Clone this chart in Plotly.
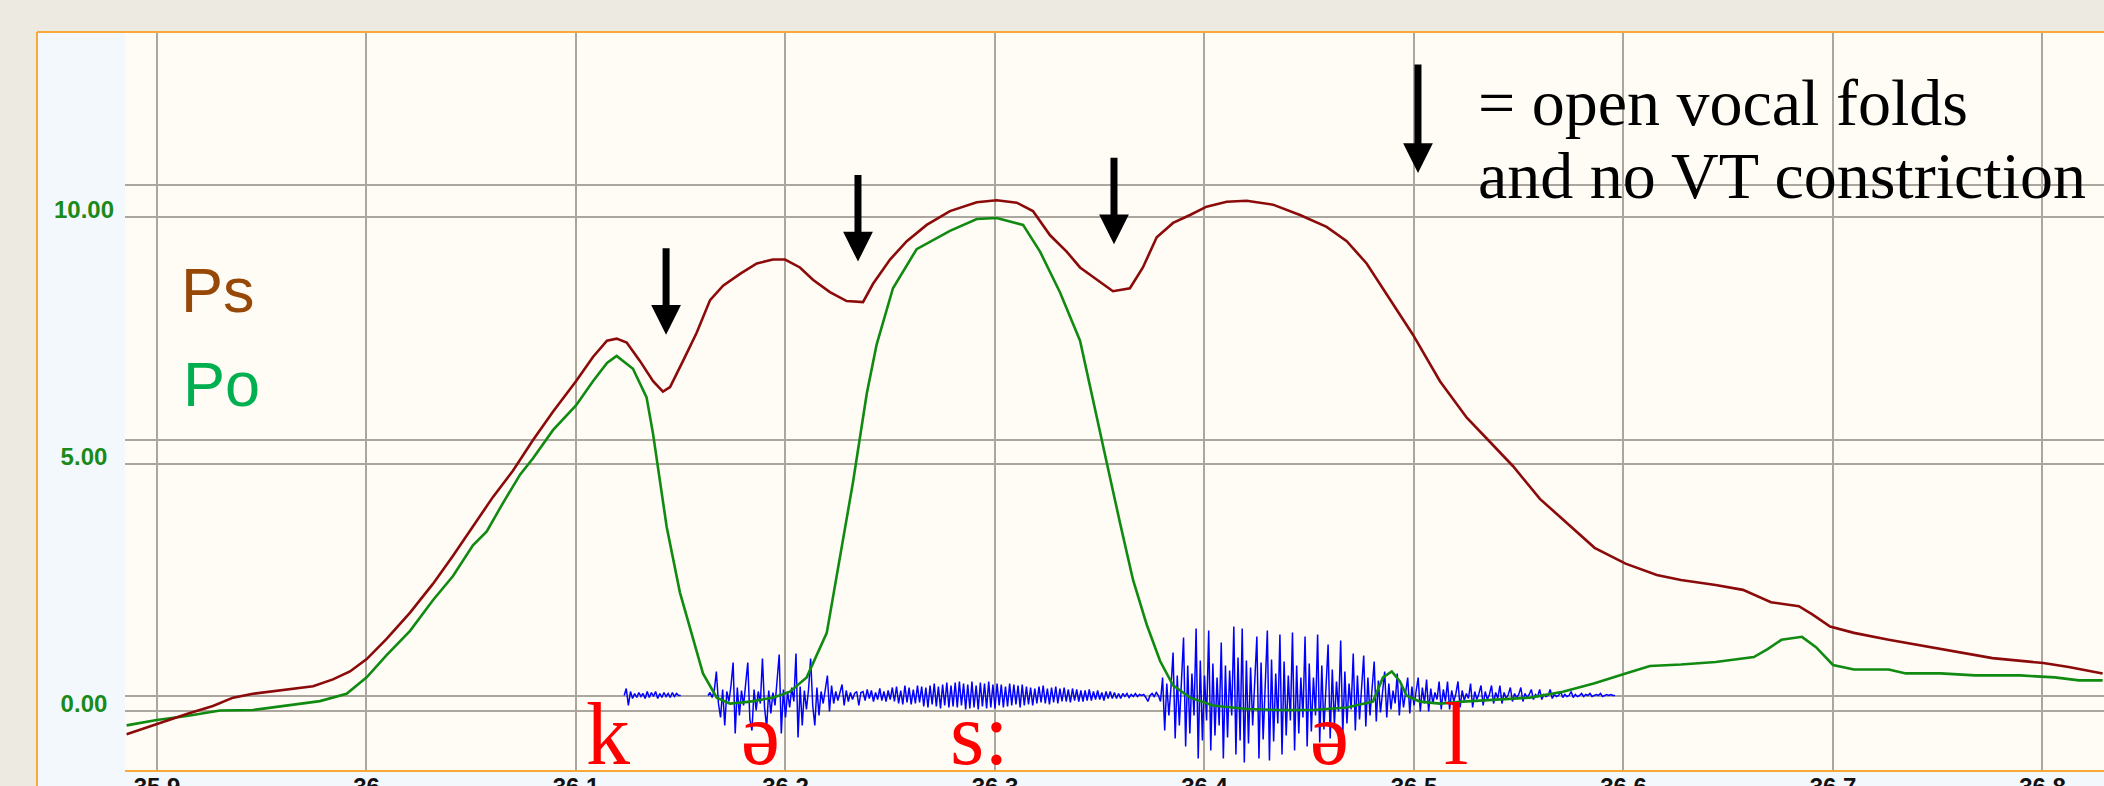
import plotly.graph_objects as go

# ---------------- data ----------------
# subglottal pressure (Ps) and oral pressure (Po), time in s
ps_t = [35.8855, 35.8999, 35.9142, 35.9267, 35.9363, 35.9458, 35.9619, 35.9745, 35.9840, 35.9921,
        36.0001, 36.0096, 36.0208, 36.0317, 36.0413, 36.0508, 36.0604, 36.0699, 36.0795, 36.0890,
        36.1000, 36.1081, 36.1148, 36.1194, 36.1242, 36.1305, 36.1368, 36.1415, 36.1449, 36.1511,
        36.1576, 36.1640, 36.1702, 36.1783, 36.1863, 36.1940, 36.1998, 36.2069, 36.2131, 36.2212,
        36.2292, 36.2370, 36.2418, 36.2499, 36.2579, 36.2674, 36.2785, 36.2913, 36.3008, 36.3104,
        36.3181, 36.3263, 36.3342, 36.3406, 36.3485, 36.3563, 36.3644, 36.3706, 36.3772, 36.3850,
        36.3931, 36.4010, 36.4106, 36.4201, 36.4327, 36.4456, 36.4583, 36.4679, 36.4774, 36.4870,
        36.4995, 36.5124, 36.5252, 36.5363, 36.5473, 36.5601, 36.5697, 36.5862, 36.6010, 36.6159,
        36.6274, 36.6440, 36.6570, 36.6704, 36.6837, 36.6903, 36.6986, 36.7100, 36.7266, 36.7430,
        36.7597, 36.7761, 36.8004, 36.8125, 36.8287]
ps_v = [-0.47, -0.26, -0.06, 0.10, 0.27, 0.35, 0.44, 0.50, 0.64, 0.80,
        1.05, 1.46, 1.99, 2.57, 3.14, 3.72, 4.33, 4.86, 5.48, 6.05,
        6.67, 7.16, 7.49, 7.53, 7.45, 7.08, 6.67, 6.46, 6.55, 7.08,
        7.65, 8.31, 8.60, 8.84, 9.05, 9.13, 9.13, 8.97, 8.72, 8.47,
        8.29, 8.27, 8.64, 9.13, 9.50, 9.83, 10.11, 10.29, 10.33, 10.28,
        10.11, 9.62, 9.29, 8.97, 8.72, 8.49, 8.55, 8.97, 9.58, 9.87,
        10.03, 10.20, 10.30, 10.32, 10.24, 10.03, 9.79, 9.50, 9.05, 8.43,
        7.61, 6.67, 5.93, 5.44, 4.95, 4.29, 3.92, 3.30, 2.98, 2.75,
        2.65, 2.55, 2.45, 2.20, 2.12, 1.95, 1.71, 1.58, 1.44, 1.32,
        1.19, 1.07, 0.97, 0.89, 0.76]

po_t = [35.8855, 35.8999, 35.9142, 35.9301, 35.9458, 35.9619, 35.9778, 35.9905, 36.0001, 36.0096,
        36.0208, 36.0317, 36.0413, 36.0508, 36.0574, 36.0652, 36.0733, 36.0795, 36.0890, 36.1000,
        36.1081, 36.1148, 36.1194, 36.1272, 36.1337, 36.1368, 36.1391, 36.1433, 36.1496, 36.1558,
        36.1606, 36.1672, 36.1735, 36.1831, 36.1940, 36.2021, 36.2101, 36.2197, 36.2260, 36.2322,
        36.2388, 36.2435, 36.2513, 36.2626, 36.2785, 36.2913, 36.3008, 36.3134, 36.3215, 36.3310,
        36.3406, 36.3468, 36.3533, 36.3597, 36.3659, 36.3724, 36.3788, 36.3850, 36.3931, 36.4041,
        36.4201, 36.4360, 36.4518, 36.4679, 36.4804, 36.4852, 36.4894, 36.4933, 36.4965, 36.5029,
        36.5124, 36.5234, 36.5395, 36.5554, 36.5711, 36.5862, 36.6010, 36.6126, 36.6274, 36.6440,
        36.6622, 36.6688, 36.6754, 36.6852, 36.6919, 36.7000, 36.7100, 36.7266, 36.7348, 36.7514,
        36.7678, 36.7893, 36.8059, 36.8174, 36.8287]
po_v = [-0.29, -0.18, -0.10, 0.01, 0.02, 0.11, 0.20, 0.35, 0.68, 1.13,
        1.62, 2.24, 2.73, 3.35, 3.63, 4.21, 4.78, 5.11, 5.68, 6.18,
        6.67, 7.04, 7.18, 6.92, 6.34, 5.60, 4.95, 3.72, 2.40, 1.50,
        0.76, 0.27, 0.15, 0.19, 0.27, 0.39, 0.68, 1.58, 3.14, 4.62,
        6.42, 7.41, 8.55, 9.34, 9.71, 9.95, 9.97, 9.83, 9.29, 8.47,
        7.49, 6.26, 5.03, 3.80, 2.65, 1.75, 1.01, 0.52, 0.27, 0.11,
        0.04, 0.02, 0.02, 0.07, 0.19, 0.68, 0.80, 0.60, 0.31, 0.19,
        0.15, 0.19, 0.23, 0.27, 0.39, 0.56, 0.76, 0.91, 0.94, 0.99,
        1.09, 1.25, 1.44, 1.50, 1.29, 0.93, 0.84, 0.84, 0.76, 0.76,
        0.72, 0.72, 0.68, 0.62, 0.62]

# audio waveform, sampled every 1 ms (arbitrary amplitude units)
wave_step = 0.001
wave_k_start = 36.123
wave_k = [0, 7, -10, 4, -3, 2, -2, 3, -1, 2, -3, 4, -2, 3, -1, 4, -3, 2, -2, 3,
          -1, 2, -2, 3, -1, 2, 0, 0]
wave_main_start = 36.163
wave_vowel1 = [0, 3, -2, 5, 24, -8, -22, 6, -30, 4, -6, 10, 33, -38, 8, -20, 5, -10, 12, 33,
               -24, -35, 6, -15, 4, -8, 37, -12, -32, 5, -18, 3, -10, 14, 41, -38, 6, -22, 4, -12,
               8, -6, 42, -42, 9, -30, 5, -14, 6, 37, -10, -30, 8, -20, 4, -8, 6, 20, -16, 10,
               -8, 4, -5, 3, 11, -10, 5, -6, 3, -4, 2, 4, -10, 3]
wave_s = [4, -5, 6, -3, 5, -6, 3, -4, 7, -5, 4, -6, 5, -4,
          8, -6, 9, -8, 5, -9, 10, -7, 8, -9, 6, -8, 10, -7, 9,
          -11, 8, -12, 10, -9, 12, -11, 9, -13, 11, -10, 13, -12, 10, -11,
          13, -12, 14, -10, 12, -14, 11, -13, 14, -12, 10, -14, 13, -11, 12, -13, 14, -12, 11, -13,
          12, -10, 11, -12, 9, -11, 12, -10, 11, -9, 10, -12, 11, -10, 9,
          -9, 8, -10, 7, -8, 9, -7, 10, -8, 7, -9, 8, -7, 9, -8,
          7, -6, 8, -6, 6, -7, 7, -5, 6, -6, 5, -6, 5, -5, 6,
          -5, 4, -4, 5, -4, 3, -5, 4, -3, 4, -3, 3, -3, 2, -3,
          2, -1, 2, -2, 1, -1, 2, -1, 1, 0]
wave_gap = [1, -2, -6, 0, 2, -1, 3]
wave_vowel2 = [0, -6,
               18, -35, 12, -20, 8,
               43, -43, 20, -30, 15,
               58, -51, 30, -38, 22, -20,
               67, -63, 35, -45, 20, -25,
               65, -55, 32, -40, 18, -30,
               53, -63, 30, -42, 25, -20,
               69, -59, 38, -45,
               67, -67, 35, -48, 28, -30, 15,
               59, -63, 33, -44, 20,
               65, -65, 36, -46, 22, -28,
               61, -59, 34, -40, 20, -25,
               63, -55, 30, -38, 18, -22,
               59, -51, 32, -36, 18, -20,
               61, -47, 30, -34, 16,
               51, -43, 26, -30, 14, -16,
               55, -39, 24, -28, 12, -14,
               42, -35, 20, -24, 10,
               40, -31, 18, -20, 8,
               34, -26, 15, -17, 6,
               24, -22, 12, -14, 5, -8,
               22, -20, 10, -12, 4,
               18, -18, 9, -10, 3,
               18, -16, 8, -8,
               16, -16, 7, -8, 3, -4,
               14, -14, 6, -6,
               14, -14, 5, -6, 2,
               14, -12, 5, -5, 2, -3,
               12, -12, 4, -4, 2,
               10, -10, 4, -4, 1,
               10, -8, 3, -3,
               10, -8, 3, -3, 1,
               8, -6, 2, -2, 1,
               8, -6, 2, -2, 1,
               6, -4, 1, -1,
               6, -4, 1, -1, 0,
               6, -3, 1, -1, 0,
               4, -2, 1, -1, 0,
               4, -2, 1, -1, 0,
               2, -1, 1, 0,
               2, -1, 0, 1, 0,
               2, -1, 0, 1, 0, 1, 0, 0]
wave_main = wave_vowel1 + wave_s + wave_gap + wave_vowel2

x_tickvals = [35.9, 36.0, 36.1, 36.2, 36.3, 36.4, 36.5, 36.6, 36.7, 36.8]
x_ticktext = ["35.9", "36", "36.1", "36.2", "36.3", "36.4", "36.5", "36.6", "36.7", "36.8"]
y_tickvals = [0, 5, 10]
y_ticktext = ["0.00\u00a0", "5.00\u00a0", "10.00"]

phones = ["k", "\u0259", "s:", "\u0259", "l"]
phone_t = [36.1153, 36.1883, 36.2924, 36.4599, 36.5200]
arrow_t = [36.1430, 36.2346, 36.3568]
arrow_tip = [7.61, 9.09, 9.44]
key_arrow_t = 36.5019
key_arrow_tip = 10.88
key_lines = ["= open vocal folds", "and no VT constriction"]

assert len(ps_t) == len(ps_v) and len(po_t) == len(po_v)

# ---------------- layout constants ----------------
W, H = 2104, 786
L, R, T, B = 125, 0, 33, 16
BEIGE = "#ECEAE1"
PANEL = "#F3F8FD"
CREAM = "#FFFCF6"
ORANGE = "#F9A83A"
GRID = "#ABA79F"
PS_LINE = "#8B0A0A"
PO_LINE = "#108A10"
WAVE = "#0000FF"
LBL_GREEN = "#1A8A1A"


def pxx(px):
    return (px - L) / (W - L - R)


def pxy(py):
    return (H - B - py) / (H - T - B)


wave_x = [wave_k_start + i * wave_step for i in range(len(wave_k))] + [None] + \
         [wave_main_start + i * wave_step for i in range(len(wave_main))]
wave_y = wave_k + [None] + wave_main

fig = go.Figure()
fig.add_trace(go.Scatter(x=wave_x, y=wave_y, mode="lines", yaxis="y",
                         line=dict(color=WAVE, width=1.5), connectgaps=False,
                         hoverinfo="skip", showlegend=False))
fig.add_trace(go.Scatter(x=po_t, y=po_v, mode="lines", yaxis="y2",
                         line=dict(color=PO_LINE, width=2.6), name="Po", showlegend=False))
fig.add_trace(go.Scatter(x=ps_t, y=ps_v, mode="lines", yaxis="y2",
                         line=dict(color=PS_LINE, width=2.6), name="Ps", showlegend=False))
fig.add_trace(go.Scatter(x=[None], y=[None], yaxis="y3", showlegend=False, hoverinfo="skip"))

lbl_font = dict(family="Liberation Sans, Arial", size=24, weight="bold")

fig.update_layout(
    template="none",
    width=W, height=H,
    margin=dict(l=L, r=R, t=T, b=B, pad=0, autoexpand=False),
    paper_bgcolor=PANEL,
    plot_bgcolor=CREAM,
    showlegend=False,
    xaxis=dict(range=[35.88473, 36.82936], tickvals=x_tickvals, ticktext=x_ticktext,
               showgrid=True, gridcolor=GRID, gridwidth=2, zeroline=False, automargin=False,
               showline=True, linecolor=ORANGE, linewidth=2, ticks="",
               tickfont=dict(lbl_font, color="#111111"), ticklabelstandoff=-6),
    yaxis=dict(range=[-74.5, 662.5], visible=False, showgrid=False, zeroline=False,
               automargin=False),
    yaxis2=dict(range=[-1.193, 13.711], overlaying="y", side="left", automargin=False,
                tickvals=y_tickvals, ticktext=y_ticktext,
                showgrid=True, gridcolor=GRID, gridwidth=2, zeroline=False,
                ticks="", tickfont=dict(lbl_font, color=LBL_GREEN),
                ticklabelstandoff=10, ticklabelshift=-7, showline=False),
    yaxis3=dict(range=[-1.458, 12.965], overlaying="y", tickvals=y_tickvals, automargin=False,
                showticklabels=False, showgrid=True, gridcolor=GRID, gridwidth=2,
                zeroline=False, ticks="", showline=False),
)

shapes = [
    dict(type="rect", xref="paper", yref="paper", x0=pxx(-5), x1=pxx(37), y0=pxy(800), y1=pxy(-5),
         fillcolor=BEIGE, line=dict(width=0), layer="below"),
    dict(type="rect", xref="paper", yref="paper", x0=pxx(-5), x1=pxx(2110), y0=pxy(32), y1=pxy(-5),
         fillcolor=BEIGE, line=dict(width=0), layer="below"),
    dict(type="line", xref="paper", yref="paper", x0=pxx(37), x1=pxx(2110), y0=pxy(32), y1=pxy(32),
         line=dict(color=ORANGE, width=2), layer="above"),
    dict(type="line", xref="paper", yref="paper", x0=pxx(37), x1=pxx(37), y0=pxy(32), y1=pxy(800),
         line=dict(color=ORANGE, width=2), layer="above"),
]
fig.update_layout(shapes=shapes)

ann = []
for t, tip in zip(arrow_t, arrow_tip):
    ann.append(dict(x=t, y=tip, xref="x", yref="y2", ax=0, ay=-88, text="", showarrow=True,
                    arrowhead=2, arrowsize=0.85, arrowwidth=7, arrowcolor="black", standoff=0))
ann.append(dict(x=key_arrow_t, y=key_arrow_tip, xref="x", yref="y2", ax=0, ay=-110, text="",
                showarrow=True, arrowhead=2, arrowsize=0.85, arrowwidth=7, arrowcolor="black",
                standoff=0))
serif = "Liberation Serif, Times New Roman, DejaVu Serif"
ann.append(dict(x=36.5296, y=12.30, xref="x", yref="y2", text=key_lines[0], showarrow=False,
                xanchor="left", yanchor="middle", font=dict(family=serif, size=66, color="black")))
ann.append(dict(x=36.5296, y=10.839, xref="x", yref="y2", text=key_lines[1], showarrow=False,
                xanchor="left", yanchor="middle", font=dict(family=serif, size=66, color="black")))
ann.append(dict(x=35.9105, y=8.514, xref="x", yref="y2", text="Ps", showarrow=False,
                xanchor="left", yanchor="middle",
                font=dict(family="Liberation Sans, Arial", size=63, color="#974806")))
ann.append(dict(x=35.9115, y=6.613, xref="x", yref="y2", text="Po", showarrow=False,
                xanchor="left", yanchor="middle",
                font=dict(family="Liberation Sans, Arial", size=63, color="#00B050")))
for t, ph in zip(phone_t, phones):
    ann.append(dict(x=t, y=-0.485, xref="x", yref="y2", text=ph, showarrow=False,
                    xanchor="center", yanchor="middle",
                    font=dict(family=serif, size=88, color="#FF0000")))
fig.update_layout(annotations=ann)

fig.write_html("out.html")
